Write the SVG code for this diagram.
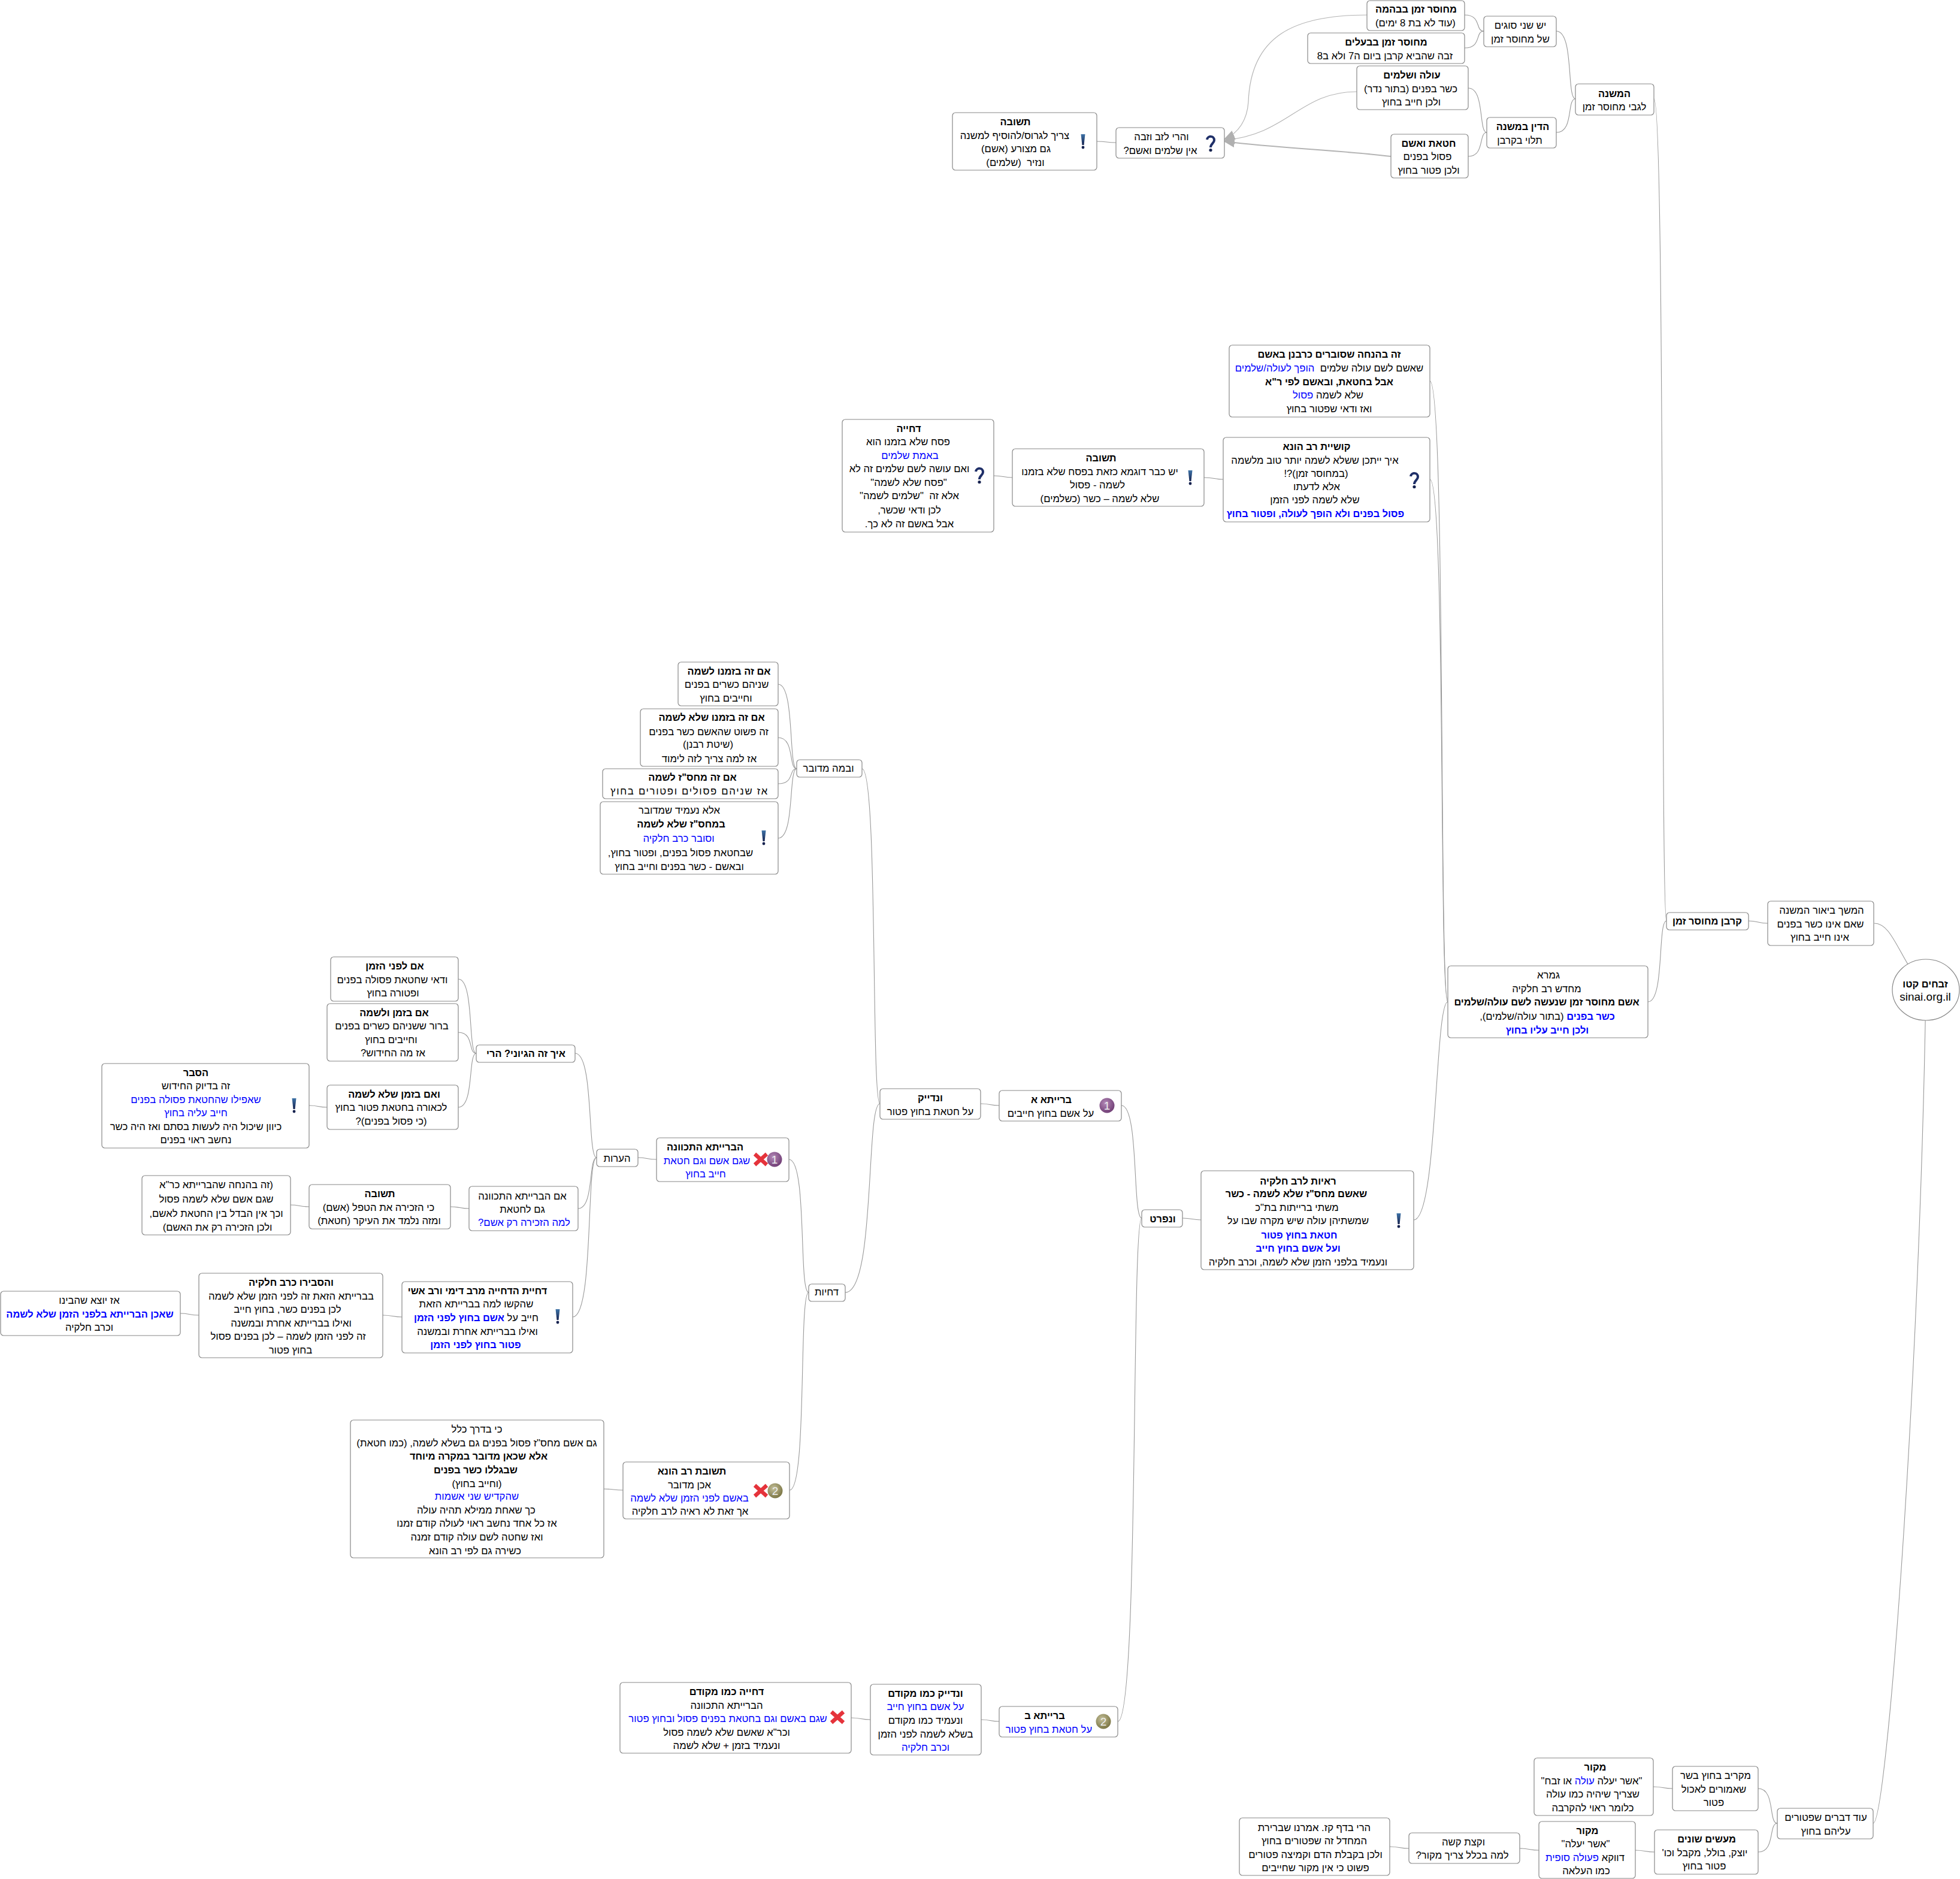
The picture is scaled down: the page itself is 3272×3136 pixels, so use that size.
<svg xmlns="http://www.w3.org/2000/svg" width="3272" height="3136" viewBox="0 0 3272 3136">
<style>
text{font-family:"Liberation Sans",Arial,sans-serif;font-size:16.7px;fill:#000;text-anchor:middle;direction:rtl}
.b{font-weight:bold;font-size:16.4px}
.u{fill:#00f}
.box{fill:#fff;stroke:#888;stroke-width:1.2}
.c{fill:none;stroke:#999;stroke-width:1.1}
.a{fill:none;stroke:#b4b4b4;stroke-width:1.2}
.num{font-size:19px;fill:#eee;direction:ltr}
</style>
<defs>
<radialGradient id="gp" cx=".4" cy=".35" r=".7"><stop offset="0" stop-color="#b48ab8"/><stop offset="1" stop-color="#6d3a72"/></radialGradient>
<radialGradient id="go" cx=".4" cy=".35" r=".7"><stop offset="0" stop-color="#c4c09a"/><stop offset="1" stop-color="#77713f"/></radialGradient>
<linearGradient id="gb" x1="0" y1="0" x2="0" y2="1"><stop offset="0" stop-color="#3f74a8"/><stop offset="1" stop-color="#16224f"/></linearGradient>
<g id="excl"><path d="M-3.5-12L3.5-12L1.5 6L-1.5 6Z" fill="url(#gb)"/><circle cx="0" cy="10" r="2.4" fill="#16224f"/></g>
<g id="ques"><path d="M-6-6C-5-13 6-13 6-5C6 0 0 1 0 7" fill="none" stroke="#1f2f68" stroke-width="4"/><circle cx="0" cy="11.5" r="2.6" fill="#16224f"/></g>
<g id="xx"><path d="M-10-9L10 9M10-9L-10 9" stroke="#e5333b" stroke-width="6.5" fill="none"/></g>
<marker id="ah" viewBox="0 0 18 16" refX="17" refY="8" markerWidth="18" markerHeight="16" orient="auto" markerUnits="userSpaceOnUse"><path d="M0 0L18 8L0 16Z" fill="#b0b0b0"/></marker>
</defs>
<g id="connectors">
<path class="c" d="M3129 1541C3160 1541 3170 1600 3215 1652"/>
<path class="c" d="M3215 1652C3205 2300 3150 3043 3127 3043"/>
<path class="c" d="M2951 1541C2935 1541 2935 1537 2919 1537"/>
<path class="c" d="M2761 165C2780 165 2772 1537 2782 1537"/>
<path class="c" d="M2751 1672C2779 1672 2767 1537 2782 1537"/>
<path class="c" d="M2598 52C2628 52 2615 165 2630 165"/>
<path class="c" d="M2598 221C2628 221 2615 165 2630 165"/>
<path class="c" d="M2445 25C2474 25 2462 52 2477 52"/>
<path class="c" d="M2445 80C2474 80 2462 52 2477 52"/>
<path class="c" d="M2451 147C2479 147 2468 221 2482 221"/>
<path class="c" d="M2451 261C2479 261 2468 221 2482 221"/>
<path class="a" d="M2282 25C2160 25 2088 60 2084 170C2082 200 2068 222 2044 232" marker-end="url(#ah)"/>
<path class="a" d="M2265 153C2170 153 2150 225 2044 234" marker-end="url(#ah)"/>
<path class="a" style="stroke-width:2" d="M2322 261C2230 250 2140 248 2044 236" marker-end="url(#ah)"/>
<path class="c" d="M1831 236C1850 236 1845 238 1863 238"/>
<path class="c" d="M2387 636C2414 636 2402 1672 2417 1672"/>
<path class="c" d="M2387 800C2414 800 2402 1672 2417 1672"/>
<path class="c" d="M2360 2036C2400 2036 2395 1672 2417 1672"/>
<path class="c" d="M2010 797C2028 797 2026 800 2042 800"/>
<path class="c" d="M1659 794C1676 794 1674 797 1690 797"/>
<path class="c" d="M1974 2033C1990 2033 1990 2036 2005 2036"/>
<path class="c" d="M1872 1845C1902 1845 1890 2033 1906 2033"/>
<path class="c" d="M1866 2873C1902 2873 1888 2033 1906 2033"/>
<path class="c" d="M1637 1842C1653 1842 1652 1845 1668 1845"/>
<path class="c" d="M1439 1283C1466 1283 1454 1842 1469 1842"/>
<path class="c" d="M1411 2157C1462 2157 1445 1842 1469 1842"/>
<path class="c" d="M1299 1142C1327 1142 1316 1283 1330 1283"/>
<path class="c" d="M1299 1231C1327 1231 1316 1283 1330 1283"/>
<path class="c" d="M1299 1308C1327 1308 1316 1283 1330 1283"/>
<path class="c" d="M1299 1399C1327 1399 1316 1283 1330 1283"/>
<path class="c" d="M1317 1935C1348 1935 1333 2157 1350 2157"/>
<path class="c" d="M1318 2487C1348 2487 1333 2157 1350 2157"/>
<path class="c" d="M1065 1932C1080 1932 1080 1935 1096 1935"/>
<path class="c" d="M960 1758C992 1758 980 1932 996 1932"/>
<path class="c" d="M965 2017C992 2017 982 1932 996 1932"/>
<path class="c" d="M956 2198C992 2198 978 1932 996 1932"/>
<path class="c" d="M765 1634C792 1634 781 1758 795 1758"/>
<path class="c" d="M765 1723C792 1723 781 1758 795 1758"/>
<path class="c" d="M765 1848C792 1848 781 1758 795 1758"/>
<path class="c" d="M516 1845C532 1845 530 1848 546 1848"/>
<path class="c" d="M752 2014C768 2014 767 2017 783 2017"/>
<path class="c" d="M485 2011C500 2011 500 2014 516 2014"/>
<path class="c" d="M639 2195C655 2195 655 2198 671 2198"/>
<path class="c" d="M301 2192C316 2192 316 2195 332 2195"/>
<path class="c" d="M1008 2485C1024 2485 1024 2487 1040 2487"/>
<path class="c" d="M1638 2870C1653 2870 1653 2873 1668 2873"/>
<path class="c" d="M1421 2867C1437 2867 1437 2870 1453 2870"/>
<path class="c" d="M2935 2985C2964 2985 2952 3043 2967 3043"/>
<path class="c" d="M2935 3091C2964 3091 2952 3043 2967 3043"/>
<path class="c" d="M2760 2982C2776 2982 2776 2985 2792 2985"/>
<path class="c" d="M2730 3088C2746 3088 2746 3091 2762 3091"/>
<path class="c" d="M2537 3085C2553 3085 2553 3088 2569 3088"/>
<path class="c" d="M2320 3082C2336 3082 2336 3085 2352 3085"/>
</g>
<g id="root"><ellipse class="box" cx="3215" cy="1652" rx="56" ry="51"/>
<text class="b" x="3214" y="1648">זבחים קטו</text><text x="3214" y="1670" style="direction:ltr;font-size:19px">sinai.org.il</text></g>
<g id="n1"><rect class="box" x="2951" y="1504" width="177" height="74" rx="5"/>
<text x="3041" y="1525">המשך ביאור המשנה</text><text x="3039" y="1548">שאם אינו כשר בפנים</text><text x="3038" y="1570">אינו חייב בחוץ</text></g>
<g id="n2"><rect class="box" x="2782" y="1523" width="137" height="29" rx="5"/><text class="b" x="2850" y="1543">קרבן מחוסר זמן</text></g>
<g id="n3"><rect class="box" x="2630" y="140" width="131" height="52" rx="5"/>
<text class="b" x="2695" y="162">המשנה</text><text x="2695" y="184">לגבי מחוסר זמן</text></g>
<g id="n4"><rect class="box" x="2477" y="27" width="121" height="51" rx="5"/>
<text x="2538" y="48">יש שני סוגים</text><text x="2538" y="71">של מחוסר זמן</text></g>
<g id="n5"><rect class="box" x="2282" y="1" width="163" height="50" rx="5"/>
<text class="b" x="2364" y="21">מחוסר זמן בבהמה</text><text x="2363" y="44">(עוד לא בת 8 ימים)</text></g>
<g id="n6"><rect class="box" x="2183" y="55" width="262" height="51" rx="5"/>
<text class="b" x="2314" y="76">מחוסר זמן בבעלים</text><text x="2312" y="99">זבה שהביא קרבן ביום ה7 ולא ב8</text></g>
<g id="n7"><rect class="box" x="2482" y="196" width="116" height="51" rx="5"/>
<text class="b" x="2542" y="217">הדין במשנה</text><text x="2537" y="240">תלוי בקרבן</text></g>
<g id="n8"><rect class="box" x="2265" y="110" width="186" height="73" rx="5"/>
<text class="b" x="2357" y="131">עולה ושלמים</text><text x="2355" y="154">כשר בפנים (בתור נדר)</text><text x="2356" y="176">ולכן חייב בחוץ</text></g>
<g id="n9"><rect class="box" x="2322" y="224" width="129" height="73" rx="5"/>
<text class="b" x="2385" y="245">חטאת ואשם</text><text x="2383" y="267">פסול בפנים</text><text x="2385" y="290">ולכן פטור בחוץ</text></g>
<g id="n10"><rect class="box" x="1863" y="213" width="181" height="51" rx="5"/>
<text x="1939" y="234">והרי לזב וזבה</text><text x="1937" y="257">אין שלמים ואשם?</text><use href="#ques" x="2021" y="239"/></g>
<g id="n11"><rect class="box" x="1590" y="188" width="241" height="96" rx="5"/>
<text class="b" x="1695" y="209">תשובה</text><text x="1694" y="232">צריך לגרוס/להוסיף למשנה</text><text x="1696" y="254">גם מצורע (אשם)</text><text x="1695" y="277" xml:space="preserve">ונזיר  (שלמים)</text><use href="#excl" x="1808" y="236"/></g>
<g id="n12"><rect class="box" x="2417" y="1612" width="334" height="120" rx="5"/>
<text x="2585" y="1633">גמרא</text><text x="2582" y="1656">מחדש רב חלקיה</text><text class="b" x="2582" y="1678">אשם מחוסר זמן שנעשה לשם עולה/שלמים</text>
<text x="2583" y="1702"><tspan class="b u">כשר בפנים</tspan> (בתור עולה/שלמים),</text><text class="b u" x="2583" y="1725">ולכן חייב עליו בחוץ</text></g>
<g id="n13"><rect class="box" x="2052" y="576" width="335" height="120" rx="5"/>
<text class="b" x="2219" y="597">זה בהנחה שסוברים כרבנן באשם</text><text x="2219" y="620" xml:space="preserve">שאשם לשם עולה שלמים  <tspan class="u">הופך לעולה/שלמים</tspan></text><text class="b" x="2219" y="643">אבל בחטאת, ובאשם לפי ר"א</text>
<text x="2217" y="665">שלא לשמה <tspan class="u">פסול</tspan></text><text x="2219" y="688">ואז ודאי שפטור בחוץ</text></g>
<g id="n14"><rect class="box" x="2042" y="730" width="345" height="141" rx="5"/>
<text class="b" x="2198" y="751">קושיית רב הונא</text><text x="2195" y="774">איך ייתכן ששלא לשמה יותר טוב מלשמה</text><text x="2197" y="796">(במחוסר זמן)?!</text><text x="2198" y="818">אלא לדעתו</text><text x="2195" y="840">שלא לשמה לפני הזמן</text><text class="b u" x="2196" y="863">פסול בפנים ולא הופך לעולה, ופטור בחוץ</text><use href="#ques" x="2361" y="801"/></g>
<g id="n15"><rect class="box" x="1690" y="749" width="320" height="96" rx="5"/>
<text class="b" x="1838" y="770">תשובה</text><text x="1836" y="793">יש כבר דוגמא כזאת בפסח שלא בזמנו</text><text x="1832" y="815">לשמה - פסול</text><text x="1836" y="838">שלא לשמה – כשר (כשלמים)</text><use href="#excl" x="1987" y="797"/></g>
<g id="n16"><rect class="box" x="1406" y="700" width="253" height="188" rx="5"/>
<text class="b" x="1517" y="721">דחייה</text><text x="1516" y="743">פסח שלא בזמנו הוא</text><text class="u" x="1519" y="766">באמת שלמים</text><text x="1518" y="788">ואם עושה לשם שלמים זה לא</text><text x="1517" y="811">"פסח שלא לשמה"</text><text x="1518" y="833" xml:space="preserve">אלא זה  "שלמים לשמה"</text><text x="1518" y="857">לכן ודאי שכשר,</text><text x="1518" y="880">אבל באשם זה לא כך.</text><use href="#ques" x="1635" y="793"/></g>
<g id="n17"><rect class="box" x="2005" y="1954" width="355" height="165" rx="5"/>
<text class="b" x="2167" y="1977">ראיות לרב חלקיה</text><text class="b" x="2164" y="1998">שאשם מחס"ז שלא לשמה - כשר</text><text x="2165" y="2021">משתי ברייתות בת"כ</text><text x="2167" y="2043">שמשתיהן עולה שיש מקרה שבו על</text><text class="b u" x="2169" y="2067">חטאת בחוץ פטור</text><text class="b u" x="2167" y="2089">ועל אשם בחוץ חייב</text><text x="2167" y="2112">ונעמיד בלפני הזמן שלא לשמה, וכרב חלקיה</text><use href="#excl" x="2335" y="2037"/></g>
<g id="n18"><rect class="box" x="1906" y="2019" width="68" height="29" rx="5"/><text class="b" x="1941" y="2040">ונפרט</text></g>
<g id="n19"><rect class="box" x="1668" y="1820" width="204" height="51" rx="5"/>
<text class="b" x="1755" y="1841">ברייתא א</text><text x="1754" y="1864">על אשם בחוץ חייבים</text><circle cx="1848" cy="1845" r="12.5" fill="url(#gp)"/><text class="num" x="1848" y="1852">1</text></g>
<g id="n20"><rect class="box" x="1469" y="1817" width="168" height="51" rx="5"/>
<text class="b" x="1553" y="1838">ונדייק</text><text x="1553" y="1861">על חטאת בחוץ פטור</text></g>
<g id="n21"><rect class="box" x="1330" y="1268" width="109" height="29" rx="5"/><text x="1383" y="1288">ובמה מדובר</text></g>
<g id="n22"><rect class="box" x="1132" y="1105" width="167" height="73" rx="5"/>
<text class="b" x="1217" y="1126">אם זה בזמנו לשמה</text><text x="1213" y="1148">שניהם כשרים בפנים</text><text x="1212" y="1171">וחייבים בחוץ</text></g>
<g id="n23"><rect class="box" x="1069" y="1183" width="230" height="96" rx="5"/>
<text class="b" x="1188" y="1203">אם זה בזמנו שלא לשמה</text><text x="1183" y="1227">זה פשוט שהאשם כשר בפנים</text><text x="1182" y="1248">(שיטת רבנן)</text><text x="1184" y="1272">אז למה צריך לזה לימוד</text></g>
<g id="n24"><rect class="box" x="1006" y="1283" width="293" height="50" rx="5"/>
<text class="b" x="1156" y="1303">אם זה מחס"ז לשמה</text><text x="1151" y="1326" style="letter-spacing:1.7px">אז שניהם פסולים ופטורים בחוץ</text></g>
<g id="n25"><rect class="box" x="1002" y="1338" width="297" height="121" rx="5"/>
<text x="1134" y="1358">אלא נעמיד שמדובר</text><text class="b" x="1137" y="1381">במחס"ז שלא לשמה</text><text class="u" x="1133" y="1405">וסובר כרב חלקיה</text><text x="1136" y="1429">שבחטאת פסול בפנים, ופטור בחוץ,</text><text x="1134" y="1452">ובאשם - כשר בפנים וחייב בחוץ</text><use href="#excl" x="1275" y="1398"/></g>
<g id="n26"><rect class="box" x="1350" y="2143" width="61" height="29" rx="5"/><text x="1380" y="2162">דחיות</text></g>
<g id="n27"><rect class="box" x="1096" y="1899" width="221" height="73" rx="5"/>
<text class="b" x="1177" y="1920">הברייתא התכוונה</text><text class="u" x="1180" y="1943">שגם אשם וגם חטאת</text><text class="u" x="1178" y="1965">חייב בחוץ</text><use href="#xx" x="1270" y="1935"/><circle cx="1293" cy="1935" r="12.5" fill="url(#gp)"/><text class="num" x="1293" y="1942">1</text></g>
<g id="n28"><rect class="box" x="996" y="1918" width="69" height="29" rx="5"/><text x="1030" y="1939">הערות</text></g>
<g id="n29"><rect class="box" x="795" y="1744" width="165" height="29" rx="5"/><text class="b" x="878" y="1764">איך זה הגיוני? הרי</text></g>
<g id="n30"><rect class="box" x="552" y="1597" width="213" height="74" rx="5"/>
<text class="b" x="659" y="1618">אם לפני הזמן</text><text x="655" y="1641">ודאי שחטאת פסולה בפנים</text><text x="656" y="1663">ופטורה בחוץ</text></g>
<g id="n31"><rect class="box" x="546" y="1675" width="219" height="96" rx="5"/>
<text class="b" x="658" y="1696">אם בזמן ולשמה</text><text x="654" y="1718">ברור ששניהם כשרים בפנים</text><text x="653" y="1741">וחייבים בחוץ</text><text x="656" y="1763">אז מה החידוש?</text></g>
<g id="n32"><rect class="box" x="546" y="1811" width="219" height="74" rx="5"/>
<text class="b" x="658" y="1832">ואם בזמן שלא לשמה</text><text x="653" y="1854">לכאורה בחטאת פטור בחוץ</text><text x="653" y="1877">(כי פסול בפנים)?</text></g>
<g id="n33"><rect class="box" x="170" y="1775" width="346" height="141" rx="5"/>
<text class="b" x="327" y="1796">הסבר</text><text x="327" y="1818">זה בדיוק החידוש</text><text class="u" x="327" y="1841">שאפילו שהחטאת פסולה בפנים</text><text class="u" x="327" y="1863">חייב עליה בחוץ</text><text x="327" y="1886">כיוון שיכול היה לעשות בסתם ואז היה כשר</text><text x="327" y="1908">נחשב ראוי בפנים</text><use href="#excl" x="491" y="1845"/></g>
<g id="n34"><rect class="box" x="783" y="1980" width="182" height="74" rx="5"/>
<text x="872" y="2002">אם הברייתא התכוונה</text><text x="872" y="2024">גם לחטאת</text><text class="u" x="875" y="2046">למה הזכירה רק אשם?</text></g>
<g id="n35"><rect class="box" x="516" y="1977" width="236" height="74" rx="5"/>
<text class="b" x="634" y="1998">תשובה</text><text x="632" y="2021">כי הזכירה את הטפל (אשם)</text><text x="633" y="2043">ומזה נלמד את העיקר (חטאת)</text></g>
<g id="n36"><rect class="box" x="237" y="1962" width="248" height="99" rx="5"/>
<text x="361" y="1983">(זה בהנחה שהברייתא כר"א</text><text x="361" y="2007">שגם אשם שלא לשמה פסול</text><text x="361" y="2031">וכך אין הבדל בין החטאת לאשם,</text><text x="363" y="2054">ולכן הזכירה רק את האשם)</text></g>
<g id="n37"><rect class="box" x="671" y="2139" width="285" height="119" rx="5"/>
<text class="b" x="797" y="2160">דחיית הדחייה מרב דימי ורב אשי</text><text x="795" y="2182">שהקשו למה בברייתא הזאת</text><text x="795" y="2205">חייב על <tspan class="b u">אשם בחוץ לפני הזמן</tspan></text><text x="797" y="2228">ואילו בברייתא אחרת ובמשנה</text><text class="b u" x="794" y="2250">פטור בחוץ לפני הזמן</text><use href="#excl" x="931" y="2197"/></g>
<g id="n38"><rect class="box" x="332" y="2125" width="307" height="141" rx="5"/>
<text class="b" x="486" y="2146">והסבירו כרב חלקיה</text><text x="486" y="2169">בברייתא הזאת זה לפני הזמן שלא לשמה</text><text x="480" y="2191">לכן בפנים כשר, בחוץ חייב</text><text x="486" y="2214">ואילו בברייתא אחרת ובמשנה</text><text x="481" y="2236">זה לפני הזמן לשמה – לכן בפנים פסול</text><text x="485" y="2259">בחוץ פטור</text></g>
<g id="n39"><rect class="box" x="1" y="2155" width="300" height="74" rx="5"/>
<text x="149" y="2176">אז יוצא שהבינו</text><text class="b u" x="150" y="2199">שאכן הברייתא בלפני הזמן שלא לשמה</text><text x="149" y="2221">וכרב חלקיה</text></g>
<g id="n40"><rect class="box" x="1040" y="2440" width="278" height="95" rx="5"/>
<text class="b" x="1155" y="2461">תשובת רב הונא</text><text x="1151" y="2484">אכן מדובר</text><text class="u" x="1151" y="2506">באשם לפני הזמן שלא לשמה</text><text x="1152" y="2528">אך זאת לא ראיה לרב חלקיה</text><use href="#xx" x="1270" y="2488"/><circle cx="1294" cy="2488" r="12.5" fill="url(#go)"/><text class="num" x="1294" y="2495">2</text></g>
<g id="n41"><rect class="box" x="585" y="2370" width="423" height="230" rx="5"/>
<text x="796" y="2391">כי בדרך כלל</text><text x="796" y="2414">גם אשם מחס"ז פסול בפנים גם בשלא לשמה, (כמו חטאת)</text><text class="b" x="799" y="2436">אלא שכאן מדובר במקרה מיוחד</text><text class="b" x="794" y="2459">שבגללו כשר בפנים</text><text x="796" y="2482">(וחייב בחוץ)</text><text class="u" x="796" y="2503">שהקדיש שני אשמות</text><text x="795" y="2526">כך שאחת ממילא תהיה עולה</text><text x="796" y="2548">אז כל אחד נחשב ראוי לעולה קודם זמנו</text><text x="796" y="2571">ואז שחטה לשם עולה קודם זמנה</text><text x="793" y="2594">כשירה גם לפי רב הונא</text></g>
<g id="n42"><rect class="box" x="1668" y="2848" width="198" height="51" rx="5"/>
<text class="b" x="1744" y="2869">ברייתא ב</text><text class="u" x="1751" y="2892">על חטאת בחוץ פטור</text><circle cx="1842" cy="2873" r="12.5" fill="url(#go)"/><text class="num" x="1842" y="2880">2</text></g>
<g id="n43"><rect class="box" x="1453" y="2811" width="185" height="118" rx="5"/>
<text class="b" x="1545" y="2832">ונדייק כמו מקודם</text><text class="u" x="1545" y="2854">על אשם בחוץ חייב</text><text x="1545" y="2877">ונעמיד כמו מקודם</text><text x="1545" y="2900">בשלא לשמה לפני הזמן</text><text class="u" x="1545" y="2922">וכרב חלקיה</text></g>
<g id="n44"><rect class="box" x="1035" y="2808" width="386" height="118" rx="5"/>
<text class="b" x="1213" y="2829">דחייה כמו מקודם</text><text x="1213" y="2852">הברייתא התכוונה</text><text class="u" x="1215" y="2874">שגם באשם וגם בחטאת בפנים פסול ובחוץ פטור</text><text x="1213" y="2897">וכר"א שאשם שלא לשמה פסול</text><text x="1213" y="2919">ונעמיד בזמן + שלא לשמה</text><use href="#xx" x="1398" y="2866"/></g>
<g id="n45"><rect class="box" x="2967" y="3018" width="160" height="51" rx="5"/>
<text x="3048" y="3039">עוד דברים שפטורים</text><text x="3048" y="3062">עליהם בחוץ</text></g>
<g id="n46"><rect class="box" x="2792" y="2948" width="143" height="74" rx="5"/>
<text x="2864" y="2969">מקריב בחוץ בשר</text><text x="2861" y="2992">שאמורים לאכול</text><text x="2861" y="3014">פטור</text></g>
<g id="n47"><rect class="box" x="2561" y="2934" width="199" height="96" rx="5"/>
<text class="b" x="2663" y="2955">מקור</text><text x="2657" y="2978">"אשר יעלה <tspan class="u">עולה</tspan> או זבח"</text><text x="2659" y="3000">שצריך שיהיה כמו עולה</text><text x="2659" y="3023">כלומר ראוי להקרבה</text></g>
<g id="n48"><rect class="box" x="2762" y="3054" width="173" height="74" rx="5"/>
<text class="b" x="2849" y="3075">מעשים שונים</text><text x="2846" y="3098">יוצק, בולל, מקבל וכו'</text><text x="2845" y="3120">פטור בחוץ</text></g>
<g id="n49"><rect class="box" x="2569" y="3040" width="161" height="95" rx="5"/>
<text class="b" x="2650" y="3061">מקור</text><text x="2647" y="3083">"אשר יעלה"</text><text x="2646" y="3106">דווקא <tspan class="u">פעולה סופית</tspan></text><text x="2648" y="3128">כמו העלאה</text></g>
<g id="n50"><rect class="box" x="2352" y="3059" width="185" height="51" rx="5"/>
<text x="2443" y="3080">וקצת קשה</text><text x="2441" y="3102">למה בכלל צריך מקור?</text></g>
<g id="n51"><rect class="box" x="2069" y="3034" width="251" height="96" rx="5"/>
<text x="2194" y="3056">הרי בדף קז. אמרנו שברירת</text><text x="2194" y="3078">המחדל זה שפטורים בחוץ</text><text x="2196" y="3101">ולכן בקבלת הדם וקמיצה פטורים</text><text x="2196" y="3123">פשוט כי אין מקור שחייבים</text></g>
</svg>
